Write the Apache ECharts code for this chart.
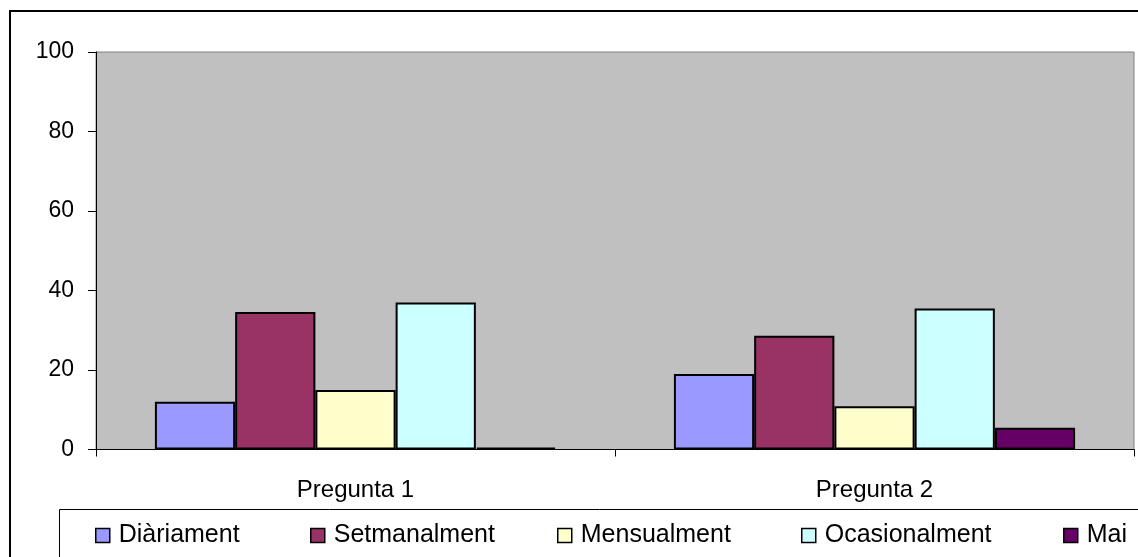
<!DOCTYPE html>
<html>
<head>
<meta charset="utf-8">
<script src="https://cdn.jsdelivr.net/npm/echarts@6/dist/echarts.min.js"></script>
<style>
html,body{margin:0;padding:0;background:#fff;}
#c{width:1138px;height:557px;}
</style>
</head>
<body>
<div id="c"></div>
<script>
const categories = ['Pregunta 1', 'Pregunta 2'];
const seriesNames = ['Diàriament', 'Setmanalment', 'Mensualment', 'Ocasionalment', 'Mai'];
const diariament = [12, 19];
const setmanalment = [34.6, 28.6];
const mensualment = [15, 10.9];
const ocasionalment = [37, 35.5];
const mai = [0.5, 5.5];
const yTicks = [0, 20, 40, 60, 80, 100];

const values = [diariament, setmanalment, mensualment, ocasionalment, mai];
const colors = ['#9999FF', '#993366', '#FFFFCC', '#CCFFFF', '#660066'];
const legendLefts = [95, 310, 557, 801, 1063];
const font = 'Liberation Sans, Arial, sans-serif';

const chart = echarts.init(document.getElementById('c'));
chart.setOption({
  animation: false,
  backgroundColor: '#ffffff',
  graphic: [
    {type: 'rect', shape: {x: 10, y: 11, width: 1200, height: 600}, style: {fill: 'none', stroke: '#000', lineWidth: 2}, z: 0},
    {type: 'rect', shape: {x: 59.5, y: 509.5, width: 1200, height: 100}, style: {fill: 'none', stroke: '#000', lineWidth: 1}, z: 0}
  ],
  grid: {left: 96, top: 52, right: 4, bottom: 107.5, show: true, backgroundColor: '#C0C0C0', borderColor: '#808080', borderWidth: 1},
  legend: seriesNames.map((n, i) => ({
    data: [n], left: legendLefts[i], top: 523, itemWidth: 14, itemHeight: 14, itemGap: 0,
    icon: 'rect', padding: 0,
    itemStyle: {borderColor: '#000', borderWidth: 1.5},
    textStyle: {fontFamily: font, fontSize: 25, color: '#000', padding: [0, 0, 0, 4]}
  })),
  xAxis: {
    type: 'category', data: categories,
    axisLine: {lineStyle: {color: '#000', width: 1}},
    axisTick: {show: true, length: 7, lineStyle: {color: '#000'}},
    axisLabel: {fontFamily: font, fontSize: 24, color: '#000', margin: 29}
  },
  yAxis: {
    type: 'value', min: 0, max: 100, interval: 20,
    axisLine: {show: true, lineStyle: {color: '#000', width: 1}},
    axisTick: {show: true, length: 8, lineStyle: {color: '#000'}},
    splitLine: {show: false},
    axisLabel: {fontFamily: font, fontSize: 23, color: '#000', margin: 22,
      formatter: v => yTicks.includes(v) ? String(v) : ''}
  },
  series: seriesNames.map((n, i) => ({
    name: n, type: 'bar', data: values[i],
    barGap: '0%', barCategoryGap: '22.7%',
    itemStyle: {color: colors[i], borderColor: '#000', borderWidth: 2}
  }))
});
</script>
</body>
</html>
